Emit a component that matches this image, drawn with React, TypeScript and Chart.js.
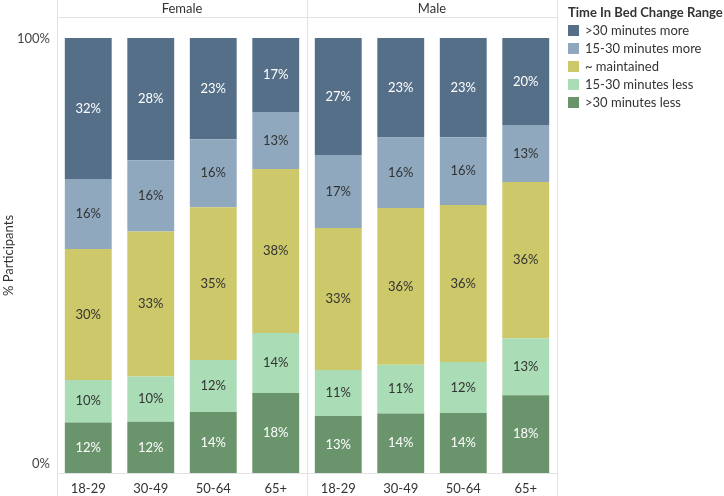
import React, { useEffect, useRef } from "react";
import { Chart, registerables } from "chart.js";
Chart.register(...registerables);

const panels = ["Female", "Male"];
const ageGroups = ["18-29", "30-49", "50-64", "65+"];
const legendTitle = "Time In Bed Change Range";
const seriesNames = [">30 minutes more", "15-30 minutes more", "~ maintained", "15-30 minutes less", ">30 minutes less"];
const seriesColors = ["#556f88", "#8fa8be", "#cdc86a", "#aadcb5", "#69946c"];
const labelColors = ["#ffffff", "#333333", "#333333", "#333333", "#ffffff"];
// order: Female 18-29, 30-49, 50-64, 65+, Male 18-29, 30-49, 50-64, 65+
const moreOver30 = [32.4, 28.1, 23.3, 17.0, 26.9, 22.9, 22.8, 20.0];
const more15to30 = [16.1, 16.4, 15.6, 13.1, 16.8, 16.2, 15.6, 13.1];
const maintained = [30.1, 33.3, 35.1, 37.7, 32.6, 36.0, 36.1, 35.9];
const less15to30 = [9.8, 10.4, 12.0, 13.8, 10.6, 11.2, 11.7, 13.1];
const lessOver30 = [11.6, 11.8, 14.0, 18.4, 13.1, 13.7, 13.8, 17.9];
const yTicks = [0, 100];
const yTitle = "% Participants";

const FONT = "Lato, 'Open Sans', sans-serif";

export default function App() {
  const ref = useRef<HTMLCanvasElement | null>(null);
  useEffect(() => {
    if (!ref.current) return;
    const seriesValues = [moreOver30, more15to30, maintained, less15to30, lessOver30];
    const order = [4, 3, 2, 1, 0];
    const datasets = order.map((i) => ({
      label: seriesNames[i],
      data: seriesValues[i],
      backgroundColor: seriesColors[i],
      borderWidth: 0,
      categoryPercentage: 1,
      barPercentage: 0.75,
      _labelColor: labelColors[i],
    }));
    const labels = [...ageGroups, ...ageGroups];

    const overlay = {
      id: "overlay",
      beforeDatasetsDraw(chart: any) {
        const { ctx, chartArea, scales } = chart;
        const { left, right, top, bottom } = chartArea;
        const mid = (left + right) / 2;
        ctx.save();
        ctx.strokeStyle = "#e2e2e2";
        ctx.lineWidth = 1;
        ctx.beginPath();
        [left, mid, right].forEach((x) => {
          const xx = Math.round(x) + 0.5;
          ctx.moveTo(xx, 0);
          ctx.lineTo(xx, chart.height);
        });
        ctx.moveTo(left, 17.5);
        ctx.lineTo(right, 17.5);
        ctx.moveTo(left, Math.round(bottom) + 0.5);
        ctx.lineTo(right, Math.round(bottom) + 0.5);
        ctx.stroke();
        ctx.fillStyle = "#333";
        ctx.font = `13px ${FONT}`;
        ctx.textAlign = "center";
        ctx.textBaseline = "middle";
        ctx.fillText(panels[0], (left + mid) / 2, 9);
        ctx.fillText(panels[1], (mid + right) / 2, 9);
        // y ticks (Tableau keeps labels inside the axis range)
        ctx.fillStyle = "#444";
        ctx.textAlign = "right";
        yTicks.forEach((v) => {
          const y = scales.y.getPixelForValue(v);
          const yy = Math.min(Math.max(y, top + 1), bottom - 9);
          ctx.fillText(v + "%", left - 7, yy);
        });
        ctx.textAlign = "center";
        ctx.fillStyle = "#333";
        ctx.save();
        ctx.translate(9, (top + bottom) / 2);
        ctx.rotate(-Math.PI / 2);
        ctx.fillText(yTitle, 0, 0);
        ctx.restore();
        ctx.restore();
      },
      afterDatasetsDraw(chart: any) {
        const { ctx } = chart;
        ctx.save();
        ctx.font = `13px ${FONT}`;
        ctx.textAlign = "center";
        ctx.textBaseline = "middle";
        chart.data.datasets.forEach((ds: any, di: number) => {
          const meta = chart.getDatasetMeta(di);
          meta.data.forEach((el: any, j: number) => {
            const v = ds.data[j];
            ctx.fillStyle = ds._labelColor;
            ctx.fillText(Math.round(v) + "%", el.x, (el.y + el.base) / 2);
          });
        });
        ctx.restore();
      },
    };

    const chart = new Chart(ref.current, {
      type: "bar",
      data: { labels, datasets: datasets as any },
      options: {
        animation: false,
        responsive: false,
        maintainAspectRatio: false,
        layout: { padding: { top: 38, right: 167, left: 0, bottom: 0 } },
        plugins: { legend: { display: false }, tooltip: { enabled: false } },
        scales: {
          x: {
            stacked: true,
            offset: true,
            grid: { display: false, drawTicks: false },
            border: { display: false },
            ticks: { color: "#333", font: { size: 13, family: FONT }, padding: 8, maxRotation: 0, autoSkip: false },
            afterFit: (s: any) => { s.height = 23; },
          },
          y: {
            stacked: true,
            min: 0,
            max: 100,
            grid: { display: false, drawTicks: false },
            border: { display: false },
            afterBuildTicks: (s: any) => { s.ticks = yTicks.map((v) => ({ value: v })); },
            ticks: { display: false },
            afterFit: (s: any) => { s.width = 57; },
          },
        },
      },
      plugins: [overlay],
    });
    return () => chart.destroy();
  }, []);

  return (
    <div style={{ position: "fixed", left: 0, top: 0, width: 724, height: 496, background: "#fff", fontFamily: FONT }}>
      <canvas ref={ref} width={724} height={496} style={{ position: "absolute", left: 0, top: 0 }} />
      <div style={{ position: "absolute", left: 568, top: 3, color: "#333", fontSize: 13 }}>
        <div style={{ fontWeight: 700, height: 18, lineHeight: "18px", whiteSpace: "nowrap" }}>{legendTitle}</div>
        {seriesNames.map((n, i) => (
          <div key={n} style={{ display: "flex", alignItems: "center", height: 18, whiteSpace: "nowrap" }}>
            <span style={{ display: "inline-block", width: 11, height: 11, background: seriesColors[i], marginRight: 6 }} />
            <span>{n}</span>
          </div>
        ))}
      </div>
    </div>
  );
}
